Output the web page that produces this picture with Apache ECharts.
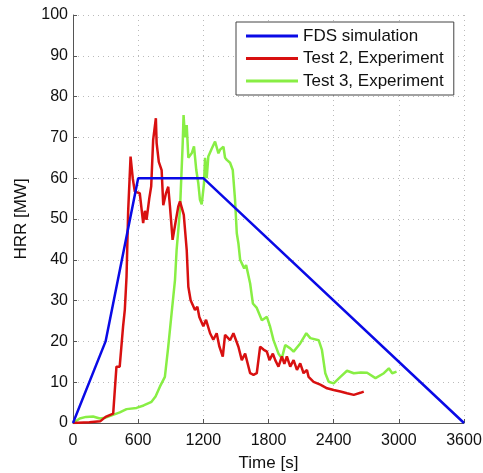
<!DOCTYPE html>
<html>
<head>
<meta charset="utf-8">
<script src="https://cdn.jsdelivr.net/npm/echarts@6/dist/echarts.min.js"></script>
<style>
html,body{margin:0;padding:0;background:#fff;}
#c{width:483px;height:473px;}
</style>
</head>
<body>
<div id="c"></div>
<script>
var seriesNames = ["FDS simulation", "Test 2, Experiment", "Test 3, Experiment"];
var xTicks = [0, 600, 1200, 1800, 2400, 3000, 3600];
var yTicks = [0, 10, 20, 30, 40, 50, 60, 70, 80, 90, 100];

var fdsTime = [0, 300, 600, 1200, 3600];
var fdsHRR  = [0, 20, 60, 60, 0];

var test2Time = [0,150,250,300,370,400,430,461,477,493,508,530,550,569,615,646,662,677,702,720,738,763,770,790,816,831,856,877,893,917,948,969,985,1000,1020,1047,1062,1083,1123,1145,1163,1200,1225,1262,1292,1323,1348,1379,1400,1446,1477,1523,1554,1585,1631,1662,1692,1723,1754,1785,1809,1840,1862,1892,1923,1946,1969,2000,2031,2062,2092,2123,2154,2169,2215,2277,2339,2400,2462,2523,2585,2646,2677];
var test2HRR  = [0,0.2,0.4,1.5,2.3,13.8,13.8,23.6,27.7,35.9,52,65.3,60,56.7,56.3,49,52,49.8,55,58,69.4,74.7,68.6,64,62,53.4,56.3,57.9,53,44.9,49.8,53,54.3,54.2,51,42.4,33.4,30.1,27.7,28.5,26,23.7,25.3,22,20.4,22,18.7,16.3,21.6,20.3,22,18.7,15.4,17,12.2,11.8,12.2,18.7,18,17.5,15.4,17,15.4,13.8,16.3,14.5,16.3,13.8,15.4,13,14.6,12.2,13,11.3,10.1,9.4,8.5,8.1,7.7,7.3,6.9,7.4,7.7];

var test3Time = [0,62,120,185,246,300,350,431,493,585,650,723,760,800,846,877,908,939,954,985,1010,1018,1031,1047,1062,1093,1114,1135,1154,1169,1185,1206,1216,1231,1246,1277,1308,1339,1354,1385,1400,1416,1446,1471,1492,1508,1523,1539,1576,1594,1631,1656,1692,1739,1785,1815,1846,1892,1923,1954,2000,2031,2092,2148,2185,2262,2292,2323,2354,2400,2462,2523,2585,2650,2708,2785,2862,2908,2939,2979];
var test3HRR  = [0,1.1,1.5,1.6,1.1,1.3,1.8,2.6,3.4,3.7,4.3,5.2,6.5,8.9,11.3,18.7,26.9,35,42.4,52.2,68.5,75.5,70,73,65,66.1,67.8,62,58.7,54.7,53.6,58.7,65,60,65.3,67.2,69,66.1,67,67.7,65,64.5,63.8,62,54.7,46.5,44,40,37.9,38.7,34.2,29.3,28.2,25.2,26,23.6,20.3,17,15.9,19.1,18.3,17.5,19.5,22,20.8,20.3,17.9,12.2,10.1,9.7,11.3,12.8,12.2,12.4,12.3,11,12.2,13.4,12.2,12.6];

function pairs(t, v) { return t.map(function (x, i) { return [x, v[i]]; }); }

var FONT = "Liberation Sans, Arial, Helvetica, sans-serif";
var chart = echarts.init(document.getElementById('c'), null, {renderer: 'canvas'});

function axisOpts(labelMargin) {
  return {
    axisLine: {show: true, lineStyle: {color: '#555', width: 1}},
    axisTick: {show: true, inside: true, length: 4, lineStyle: {color: '#555'}},
    splitLine: {show: true, lineStyle: {color: '#bbb', type: [1, 4], width: 1}},
    axisLabel: {color: '#111', fontSize: 16, fontFamily: FONT, margin: labelMargin,
                formatter: function (v) { return String(v); }},
    nameTextStyle: {color: '#111', fontSize: 17, fontFamily: FONT}
  };
}

var colors = ['#0a0ae6', '#d81010', '#88ee44'];

chart.setOption({
  animation: false,
  backgroundColor: '#fff',
  grid: {left: 73, right: 19, top: 15, bottom: 50, containLabel: false, outerBoundsMode: 'none'},
  legend: {
    orient: 'vertical',
    left: 236, top: 22,
    padding: [5, 10, 5, 10],
    icon: 'rect',
    itemWidth: 52, itemHeight: 3, itemGap: 4.5,
    backgroundColor: '#fff',
    borderColor: '#444', borderWidth: 1,
    textStyle: {color: '#111', fontSize: 17, fontFamily: FONT, lineHeight: 18},
    data: seriesNames
  },
  xAxis: Object.assign({
    type: 'value', min: xTicks[0], max: xTicks[xTicks.length - 1], interval: 600,
    name: 'Time [s]', nameLocation: 'middle', nameGap: 32
  }, axisOpts(10)),
  yAxis: Object.assign({
    type: 'value', min: yTicks[0], max: yTicks[yTicks.length - 1], interval: 10,
    name: 'HRR [MW]', nameLocation: 'middle', nameGap: 43, nameRotate: 90
  }, axisOpts(5)),
  series: [
    {name: seriesNames[0], type: 'line', symbol: 'none', data: pairs(fdsTime, fdsHRR),
     lineStyle: {color: colors[0], width: 2.5}, itemStyle: {color: colors[0]}, z: 3},
    {name: seriesNames[1], type: 'line', symbol: 'none', data: pairs(test2Time, test2HRR),
     lineStyle: {color: colors[1], width: 2.5}, itemStyle: {color: colors[1]}, z: 2},
    {name: seriesNames[2], type: 'line', symbol: 'none', data: pairs(test3Time, test3HRR),
     lineStyle: {color: colors[2], width: 2.5}, itemStyle: {color: colors[2]}, z: 1}
  ]
});
</script>
</body>
</html>
